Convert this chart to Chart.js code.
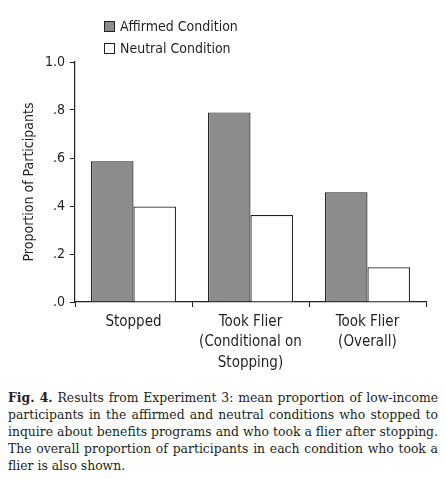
<!DOCTYPE html>
<html lang="en">
<head>
    <meta charset="UTF-8">
    <title>Fig. 4</title>
    <script src="https://cdn.jsdelivr.net/npm/chart.js"></script>
    <style>
        body { margin: 0; background: #fff; width: 445px; height: 479px; position: relative; overflow: hidden; }
        #chart { position: absolute; left: 0; top: 0; }
        #caption {
            position: absolute; left: 8px; top: 389px; width: 430px;
            font-family: 'DejaVu Serif', serif; font-size: 12.4px; line-height: 17px; color: #231f20;
        }
        #caption div { text-align: justify; text-align-last: justify; white-space: nowrap; }
        #caption div.last { text-align-last: left; }
    </style>
</head>
<body>
    <canvas id="chart" width="445" height="380"></canvas>
    <div id="caption">
        <div><b>Fig. 4.</b> Results from Experiment 3: mean proportion of low-income</div>
        <div>participants in the affirmed and neutral conditions who stopped to</div>
        <div>inquire about benefits programs and who took a flier after stopping.</div>
        <div>The overall proportion of participants in each condition who took a</div>
        <div class="last">flier is also shown.</div>
    </div>

    <script>
        let categories = [['Stopped'], ['Took Flier', '(Conditional on', 'Stopping)'], ['Took Flier', '(Overall)']];
        let affirmed = [0.586, 0.79, 0.457];
        let neutral = [0.398, 0.362, 0.145];
        let yTickLabels = ['.0', '.2', '.4', '.6', '.8', '1.0'];

        let ink = '#231f20';
        let narrow = "'Liberation Sans Narrow', 'DejaVu Sans Condensed', 'Liberation Sans', sans-serif";

        // legend drawn in two stacked rows above the plot
        let stackedLegend = {
            id: 'stackedLegend',
            afterDraw(chart) {
                let ctx = chart.ctx;
                ctx.save();
                ctx.font = '14px ' + narrow;
                ctx.textBaseline = 'middle';
                chart.data.datasets.forEach((ds, i) => {
                    let y = 21 + i * 22;
                    ctx.fillStyle = ds.backgroundColor;
                    ctx.fillRect(104.5, y + 0.5, 10, 10);
                    ctx.strokeStyle = ink;
                    ctx.lineWidth = 1;
                    ctx.strokeRect(104.5, y + 0.5, 10, 10);
                    ctx.fillStyle = ink;
                    ctx.fillText(ds.label, 120, y + 6);
                });
                ctx.restore();
            }
        };

        let ctx = document.getElementById('chart').getContext('2d');
        let chart = new Chart(ctx, {
            type: 'bar',
            data: {
                labels: categories,
                datasets: [
                    { label: 'Affirmed Condition', data: affirmed, backgroundColor: '#8b8c8d', borderColor: ink, borderWidth: 1.2 },
                    { label: 'Neutral Condition', data: neutral, backgroundColor: '#ffffff', borderColor: ink, borderWidth: 1.2 }
                ]
            },
            options: {
                responsive: false,
                animation: false,
                devicePixelRatio: 1,
                layout: { padding: { top: 62, right: 19, left: 0, bottom: 0 } },
                datasets: { bar: { barPercentage: 1, categoryPercentage: 0.726 } },
                plugins: { legend: { display: false }, tooltip: { enabled: false } },
                scales: {
                    x: {
                        afterFit(scale) { scale.height = 78; },
                        grid: { offset: true, drawOnChartArea: false, drawTicks: true, tickLength: 5, color: ink },
                        border: { color: ink, width: 1.2 },
                        ticks: { color: ink, font: { family: narrow, size: 15, lineHeight: 1.35 }, padding: 5, maxRotation: 0, autoSkip: false }
                    },
                    y: {
                        min: 0, max: 1,
                        afterFit(scale) { scale.width = 75; },
                        grid: { drawOnChartArea: false, drawTicks: true, tickLength: 5, color: ink },
                        border: { color: ink, width: 1.2 },
                        ticks: {
                            stepSize: 0.2, color: ink, padding: 5,
                            font: { family: narrow, size: 14 },
                            callback: (v) => yTickLabels[Math.round(v * 5)]
                        },
                        title: {
                            display: true, text: 'Proportion of Participants', color: ink,
                            font: { family: narrow, size: 14 }, padding: { top: 21, bottom: 0 }
                        }
                    }
                }
            },
            plugins: [stackedLegend]
        });
    </script>
</body>
</html>
